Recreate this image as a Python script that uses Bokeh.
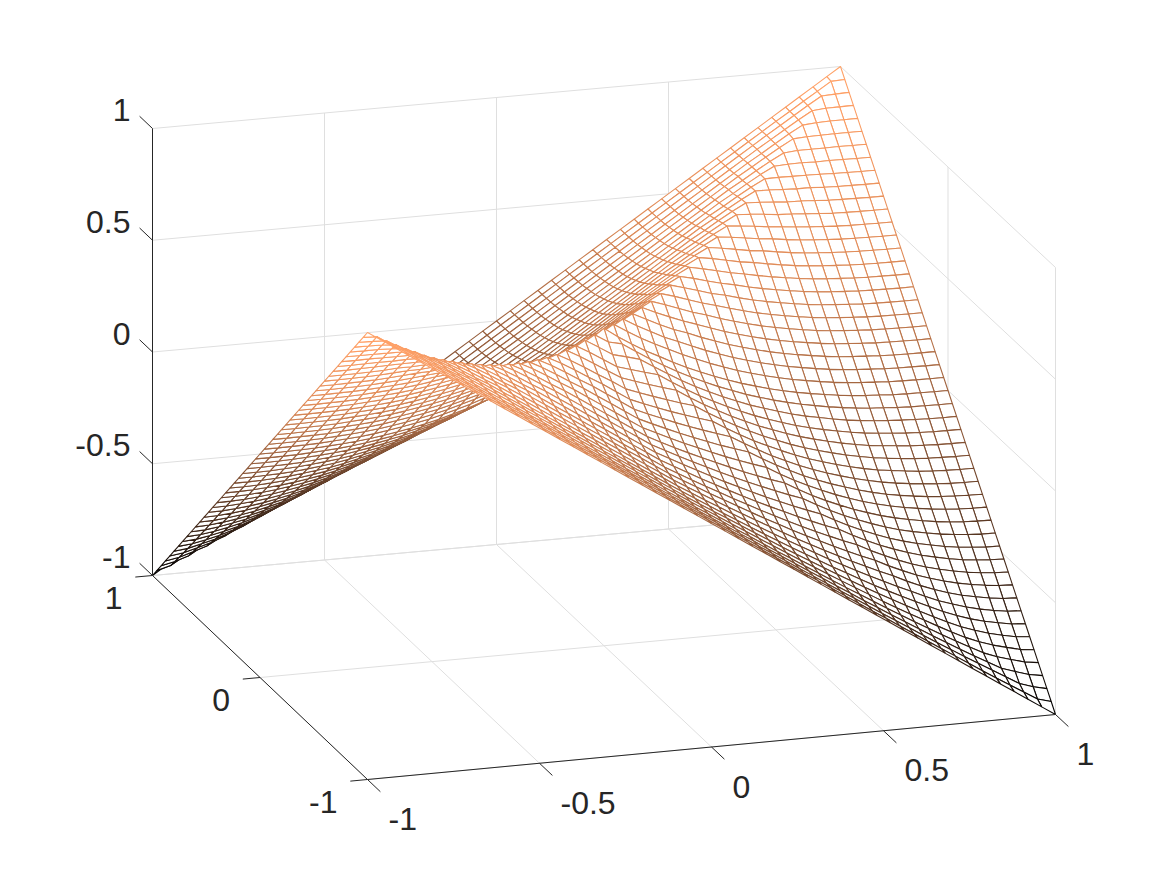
from bokeh.plotting import figure
from bokeh.embed import file_html
from bokeh.resources import INLINE
from bokeh.core.properties import value

# Mesh heights. Hand-written table, fitted to the visible creases and folds.
# Rows are max(|x|,|y|) in steps of 0.04, columns min(|x|,|y|). The surface looks symmetric, so the
# rest of the mesh is mirrored from these two triangles.
z_same_sign = [
 [.420],
 [.377,.415],
 [.339,.377,.414],
 [.303,.341,.379,.414],
 [.272,.309,.347,.384,.418],
 [.240,.280,.316,.354,.390,.422],
 [.211,.251,.291,.327,.365,.401,.433],
 [.185,.225,.265,.305,.341,.379,.415,.447],
 [.160,.200,.240,.280,.320,.356,.394,.430,.462],
 [.138,.178,.218,.258,.298,.338,.374,.412,.448,.480],
 [.117,.157,.197,.237,.277,.317,.357,.393,.431,.467,.499],
 [.099,.139,.179,.219,.259,.299,.339,.379,.415,.453,.489,.521],
 [.082,.122,.162,.202,.242,.282,.322,.362,.402,.438,.476,.512,.544],
 [.067,.107,.147,.187,.227,.267,.307,.347,.387,.427,.463,.501,.537,.569],
 [.054,.094,.134,.174,.214,.254,.294,.334,.374,.414,.454,.490,.528,.564,.596],
 [.043,.083,.123,.163,.203,.243,.283,.323,.363,.403,.443,.483,.519,.557,.593,.625],
 [.033,.073,.113,.153,.193,.233,.273,.313,.353,.393,.433,.473,.513,.549,.587,.623,.655],
 [.024,.064,.104,.144,.184,.224,.264,.304,.344,.384,.424,.464,.504,.544,.580,.618,.654,.686],
 [.017,.057,.097,.137,.177,.217,.257,.297,.337,.377,.417,.457,.497,.537,.577,.613,.651,.687,.719],
 [.012,.052,.092,.132,.172,.212,.252,.292,.332,.372,.412,.452,.492,.532,.572,.612,.648,.686,.722,.754],
 [.008,.048,.088,.128,.168,.208,.248,.288,.328,.368,.408,.448,.488,.528,.568,.608,.648,.685,.723,.760,.794],
 [.004,.044,.084,.124,.164,.204,.244,.284,.324,.364,.404,.444,.484,.524,.564,.604,.644,.684,.721,.760,.798,.832],
 [.002,.042,.082,.122,.162,.202,.242,.282,.322,.362,.402,.442,.482,.522,.562,.602,.642,.682,.722,.760,.799,.837,.873],
 [.001,.041,.081,.121,.161,.201,.241,.281,.321,.361,.401,.441,.481,.521,.561,.601,.641,.681,.721,.761,.800,.839,.878,.915],
 [.000,.040,.080,.120,.160,.200,.240,.280,.320,.360,.400,.440,.480,.520,.560,.600,.640,.680,.720,.760,.800,.839,.879,.918,.957],
 [.000,.040,.080,.120,.160,.200,.240,.280,.320,.360,.400,.440,.480,.520,.560,.600,.640,.680,.720,.760,.800,.840,.880,.920,.960,1.000],
]
z_opposite_sign = [
 [.420],
 [.379,.363],
 [.341,.323,.306],
 [.305,.285,.267,.250],
 [.272,.250,.230,.211,.193],
 [.240,.217,.195,.174,.154,.136],
 [.211,.186,.162,.139,.118,.098,.079],
 [.185,.158,.133,.108,.085,.063,.042,.022],
 [.160,.132,.105,.079,.054,.030,.007,-.014,-.034],
 [.138,.109,.080,.052,.026,.000,-.025,-.048,-.070,-.091],
 [.117,.086,.056,.027,-.001,-.028,-.054,-.080,-.104,-.127,-.148],
 [.099,.067,.036,.005,-.024,-.053,-.081,-.108,-.134,-.159,-.183,-.205],
 [.082,.049,.017,-.015,-.046,-.077,-.106,-.135,-.163,-.189,-.215,-.239,-.262],
 [.067,.033,-.001,-.034,-.066,-.098,-.129,-.159,-.188,-.216,-.244,-.270,-.295,-.318],
 [.054,.019,-.016,-.050,-.083,-.116,-.148,-.180,-.211,-.241,-.270,-.298,-.325,-.351,-.375],
 [.043,.007,-.028,-.064,-.098,-.132,-.166,-.199,-.231,-.263,-.294,-.323,-.352,-.380,-.407,-.432],
 [.033,-.004,-.040,-.076,-.112,-.147,-.182,-.216,-.250,-.283,-.315,-.346,-.377,-.407,-.435,-.463,-.489],
 [.024,-.013,-.051,-.087,-.124,-.160,-.196,-.231,-.266,-.300,-.334,-.367,-.399,-.430,-.461,-.490,-.519,-.546],
 [.017,-.021,-.059,-.097,-.134,-.171,-.208,-.244,-.280,-.315,-.350,-.385,-.418,-.451,-.484,-.515,-.545,-.574,-.602],
 [.012,-.027,-.065,-.103,-.141,-.179,-.216,-.254,-.291,-.327,-.363,-.399,-.434,-.469,-.503,-.536,-.568,-.600,-.630,-.659],
 [.008,-.031,-.070,-.109,-.147,-.186,-.224,-.262,-.300,-.337,-.374,-.411,-.447,-.483,-.519,-.554,-.588,-.621,-.654,-.686,-.716],
 [.004,-.035,-.074,-.114,-.153,-.192,-.231,-.269,-.308,-.346,-.384,-.422,-.459,-.496,-.533,-.569,-.605,-.640,-.675,-.708,-.741,-.773],
 [.002,-.038,-.077,-.117,-.156,-.196,-.235,-.274,-.313,-.352,-.391,-.429,-.468,-.506,-.544,-.581,-.618,-.655,-.691,-.727,-.762,-.796,-.830],
 [.001,-.039,-.079,-.119,-.159,-.198,-.238,-.278,-.317,-.357,-.396,-.435,-.474,-.513,-.552,-.590,-.629,-.667,-.704,-.742,-.778,-.814,-.850,-.886],
 [.000,-.040,-.080,-.120,-.160,-.200,-.240,-.280,-.319,-.359,-.399,-.439,-.479,-.518,-.558,-.597,-.637,-.676,-.715,-.754,-.793,-.831,-.869,-.906,-.943],
 [.000,-.040,-.080,-.120,-.160,-.200,-.240,-.280,-.320,-.360,-.400,-.440,-.480,-.520,-.560,-.600,-.640,-.680,-.720,-.760,-.800,-.840,-.880,-.920,-.960,-1.000],
]
x_ticks = [-1, -0.5, 0, 0.5, 1]
y_ticks = [-1, 0, 1]
z_ticks = [-1, -0.5, 0, 0.5, 1]

half = len(z_same_sign) - 1
n = 2 * half + 1
g = [(k - half) / half for k in range(n)]

def height(a, b):
    ia, ib = a - half, b - half
    table = z_same_sign if ia * ib >= 0 else z_opposite_sign
    return table[max(abs(ia), abs(ib))][min(abs(ia), abs(ib))]

Z = [[height(a, b) for a in range(n)] for b in range(n)]

def proj(x, y, z):
    return (603.5 + 344 * x - 107.5 * y,
            645.25 - 31.75 * x - 101.25 * y + 0.75 * x * y - 223.5 * (1 + z))

W, H = 1151, 859
p = figure(width=W, height=H, x_range=(0, W), y_range=(H, 0), output_backend="svg",
           toolbar_location=None, min_border=0, outline_line_color=None)
p.xaxis.visible = False; p.yaxis.visible = False; p.grid.visible = False
p.background_fill_color = "white"

def seg(a, b):
    pa, pb = proj(*a), proj(*b)
    return [pa[0], pb[0]], [pa[1], pb[1]]

grid = []
for x in x_ticks:
    grid.append(seg((x, -1, -1), (x, 1, -1)))
    grid.append(seg((x, 1, -1), (x, 1, 1)))
for y in y_ticks:
    grid.append(seg((-1, y, -1), (1, y, -1)))
    grid.append(seg((1, y, -1), (1, y, 1)))
for z in z_ticks:
    grid.append(seg((-1, 1, z), (1, 1, z)))
    grid.append(seg((1, 1, z), (1, -1, z)))
p.multi_line([s[0] for s in grid], [s[1] for s in grid], line_color="#dfdfdf", line_width=1)

# back to front, so that the white cells hide what lies behind them
xs, ys, cols = [], [], []
for b in range(n - 2, -1, -1):
    for a in range(n - 2, -1, -1):
        idx = [(a, b), (a + 1, b), (a + 1, b + 1), (a, b + 1)]
        pts = [proj(g[u], g[v], Z[v][u]) for u, v in idx]
        zm = sum(Z[v][u] for u, v in idx) / 4
        c = (zm + 1) / 2
        if c > 0.7:
            c = 0.7 + (c - 0.7) * 0.4
        cols.append("#%02x%02x%02x" % (int(255 * min(1, 1.25 * c)), int(255 * .7812 * c), int(255 * .4975 * c)))
        xs.append([q[0] for q in pts]); ys.append([q[1] for q in pts])
p.patches(xs, ys, fill_color="white", line_color=cols, line_width=1.1)

ax = [seg((-1, 1, -1), (-1, 1, 1)), seg((-1, -1, -1), (1, -1, -1)), seg((-1, -1, -1), (-1, 1, -1))]
for z in z_ticks:
    ax.append(seg((-1, 1, z), (-1, 1.12, z)))
for x in x_ticks:
    ax.append(seg((x, -1, -1), (x, -1.12, -1)))
for y in y_ticks:
    ax.append(seg((-1, y, -1), (-1.05, y, -1)))
p.multi_line([s[0] for s in ax], [s[1] for s in ax], line_color="#262626", line_width=1)

font = value("Liberation Sans")
def lab(v): return "%g" % v
style = dict(text_font=font, text_font_size="32px", text_color="#262626", text_baseline="middle")
p.text([proj(-1, 1, z)[0] - 22 for z in z_ticks], [proj(-1, 1, z)[1] - 18.5 for z in z_ticks],
       [lab(v) for v in z_ticks], text_align="right", **style)
p.text([proj(x, -1, -1)[0] + 21 for x in x_ticks], [proj(x, -1, -1)[1] + 39.5 for x in x_ticks],
       [lab(v) for v in x_ticks], text_align="left", **style)
p.text([proj(-1, y, -1)[0] - 30 for y in y_ticks], [proj(-1, y, -1)[1] + 22.5 for y in y_ticks],
       [lab(v) for v in y_ticks], text_align="right", **style)

open("out.html", "w").write(file_html(p, INLINE))
